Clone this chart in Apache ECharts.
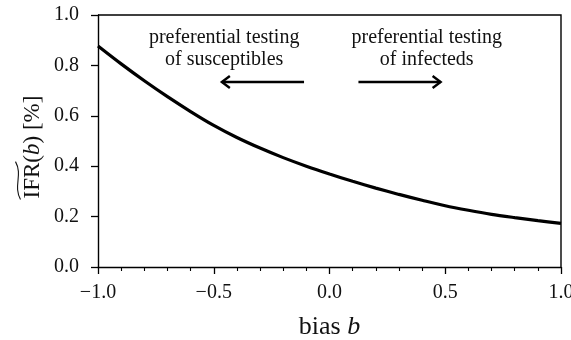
<!DOCTYPE html>
<html>
<head>
<meta charset="utf-8">
<script src="https://cdn.jsdelivr.net/npm/echarts@6/dist/echarts.min.js"></script>
<style>
  html, body { margin: 0; padding: 0; background: #fff; }
  #chart { width: 571px; height: 340px; }
</style>
</head>
<body>
<div id="chart"></div>
<script>
// Bias values b and the corresponding estimated IFR (in %)
const bias = [-1.0, -0.9, -0.8, -0.7, -0.6, -0.5, -0.4, -0.3, -0.2, -0.1, 0.0,
              0.1, 0.2, 0.3, 0.4, 0.5, 0.6, 0.7, 0.8, 0.9, 1.0];
const ifr = [0.877, 0.806, 0.739, 0.676, 0.617, 0.562, 0.514, 0.472, 0.434, 0.400, 0.369,
             0.340, 0.313, 0.288, 0.265, 0.243, 0.225, 0.209, 0.196, 0.184, 0.173];

const xTicks = [-1.0, -0.5, 0.0, 0.5, 1.0];
const yTicks = [0.0, 0.2, 0.4, 0.6, 0.8, 1.0];

const leftNote = 'preferential testing\nof susceptibles';
const rightNote = 'preferential testing\nof infecteds';

const FONT = '"Liberation Serif", "DejaVu Serif", serif';
const INK = '#111';

const chart = echarts.init(document.getElementById('chart'), null, { renderer: 'canvas' });

const fmt = v => v.toFixed(1).replace('-', '\u2212');

const option = {
  animation: false,
  backgroundColor: '#fff',
  grid: { left: 98, right: 10, top: 15, bottom: 73, show: false, outerBoundsMode: 'none', containLabel: false },
  xAxis: {
    type: 'value', min: -1, max: 1, interval: 0.5,
    axisLine: { show: true, onZero: false, lineStyle: { color: '#000', width: 1.4 } },
    axisTick: { show: true, length: 7, lineStyle: { color: '#000', width: 1.3 } },
    minorTick: { show: true, splitNumber: 5, length: 4, lineStyle: { color: '#000', width: 1.1 } },
    splitLine: { show: false },
    axisLabel: {
      color: INK, fontFamily: FONT, fontSize: 20, margin: 16,
      formatter: v => xTicks.includes(Math.round(v * 10) / 10) ? fmt(v) : ''
    },
    name: '{r|bias }{i|b}',
    nameLocation: 'middle', nameGap: 47,
    nameTextStyle: {
      rich: {
        r: { fontFamily: FONT, fontSize: 26, color: INK },
        i: { fontFamily: FONT, fontSize: 26, fontStyle: 'italic', color: INK }
      }
    }
  },
  yAxis: {
    type: 'value', min: 0, max: 1, interval: 0.2,
    axisLine: { show: true, onZero: false, lineStyle: { color: '#000', width: 1.4 } },
    axisTick: { show: true, length: 7, lineStyle: { color: '#000', width: 1.3 } },
    splitLine: { show: false },
    axisLabel: {
      color: INK, fontFamily: FONT, fontSize: 20, margin: 19,
      formatter: v => yTicks.includes(Math.round(v * 10) / 10) ? fmt(v) : ''
    }
  },
  series: [{
    type: 'line',
    data: bias.map((b, i) => [b, ifr[i]]),
    smooth: 0.3,
    showSymbol: false,
    clip: false,
    lineStyle: { color: '#000', width: 3.2 }
  }]
};
chart.setOption(option);

// Frame, annotations and the y-axis title
function buildGraphics() {
  const at = (b, v) => chart.convertToPixel({ gridIndex: 0 }, [b, v]);
  const p00 = at(-1, 0), p11 = at(1, 1);
  const x0 = p00[0], y0 = p00[1], x1 = p11[0], y1 = p11[1];

  // Arrow annotations in data coordinates
  const arrowY = 0.734;
  const la = at(-0.11, arrowY), lb = at(-0.465, arrowY);
  const ra = at(0.125, arrowY), rb = at(0.48, arrowY);
  const head = 8;
  const arrow = (from, to) => {
    const dir = Math.sign(to[0] - from[0]);
    return [
      { type: 'line', shape: { x1: from[0], y1: from[1], x2: to[0], y2: to[1] },
        style: { stroke: '#000', lineWidth: 2.4 } },
      { type: 'polyline',
        shape: { points: [[to[0] - dir * head, to[1] - head * 0.75], [to[0], to[1]], [to[0] - dir * head, to[1] + head * 0.75]] },
        style: { stroke: '#000', lineWidth: 2.4, fill: null, lineJoin: 'miter' } }
    ];
  };

  const lt = at(-0.455, 0.865), rt = at(0.42, 0.865);

  // Y-axis title with a wide tilde over "IFR"
  const ctx = document.createElement('canvas').getContext('2d');
  const yFont = 23;
  ctx.font = yFont + 'px ' + FONT;
  const wIFR = ctx.measureText('IFR').width;
  const wOpen = ctx.measureText('(').width;
  const wClose = ctx.measureText(') [%]').width;
  ctx.font = 'italic ' + yFont + 'px ' + FONT;
  const wB = ctx.measureText('b').width;
  const total = wIFR + wOpen + wB + wClose;
  const sx = -total / 2;
  const tildeY = -15;

  return [
    { type: 'polyline', silent: true,
      shape: { points: [[x0, y1], [x1, y1], [x1, y0]] },
      style: { stroke: '#000', lineWidth: 1.4, fill: null } },
    ...arrow(la, lb),
    ...arrow(ra, rb),
    { type: 'text', x: lt[0], y: lt[1],
      style: { text: leftNote, font: '20px ' + FONT, fill: INK, align: 'center', verticalAlign: 'middle', lineHeight: 22 } },
    { type: 'text', x: rt[0], y: rt[1],
      style: { text: rightNote, font: '20px ' + FONT, fill: INK, align: 'center', verticalAlign: 'middle', lineHeight: 22 } },
    {
      type: 'group', x: 33, y: 147, rotation: Math.PI / 2,
      children: [
        { type: 'text', x: sx, y: 0,
          style: { text: '{r|IFR(}{i|b}{r|) [%]}', align: 'left', verticalAlign: 'middle',
            rich: {
              r: { fontFamily: FONT, fontSize: yFont, fill: INK },
              i: { fontFamily: FONT, fontSize: yFont, fontStyle: 'italic', fill: INK }
            } } },
        { type: 'bezierCurve',
          shape: { x1: sx - 1, y1: tildeY + 2.5, cpx1: sx + wIFR * 0.35, cpy1: tildeY - 5,
                   cpx2: sx + wIFR * 0.65, cpy2: tildeY + 5, x2: sx + wIFR + 1, y2: tildeY - 2.5 },
          style: { stroke: INK, lineWidth: 1.1, fill: null } }
      ]
    }
  ];
}
chart.setOption({ graphic: buildGraphics() });
</script>
</body>
</html>
